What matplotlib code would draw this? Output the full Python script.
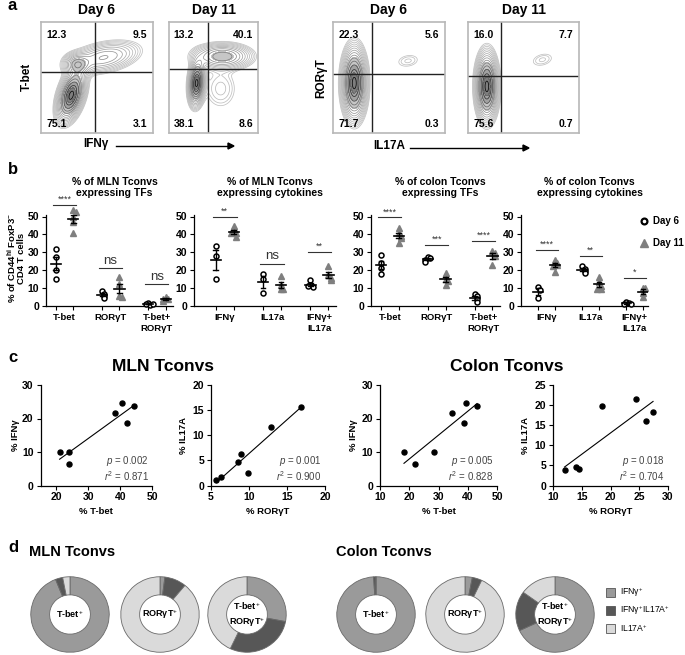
import numpy as np
import matplotlib.pyplot as plt

plt.rcParams['font.family'] = ['Liberation Sans', 'DejaVu Sans']
plt.rcParams['mathtext.fontset'] = 'custom'
plt.rcParams['mathtext.rm'] = 'Liberation Sans'
plt.rcParams['mathtext.it'] = 'Liberation Sans:italic'
plt.rcParams['mathtext.bf'] = 'Liberation Sans:bold'

# ---- panel a: flow plots (quadrant % and rough population shapes)
flow_days = ['Day 6', 'Day 11', 'Day 6', 'Day 11']
flow_quads = [[12.3, 9.5, 75.1, 3.1], [13.2, 40.1, 38.1, 8.6],
              [22.3, 5.6, 71.7, 0.3], [16.0, 7.7, 75.6, 0.7]]   # UL, UR, LL, LR
flow_gates = [(0.48, 0.55), (0.44, 0.58), (0.35, 0.53), (0.30, 0.51)]
# blobs: cx, cy, sx, sy, rotation (deg), weight
flow_blobs = [
    [(0.27, 0.34, 0.055, 0.12, -17, 1.0), (0.56, 0.68, 0.17, 0.07, 12, 0.30), (0.32, 0.62, 0.06, 0.05, 0, 0.35)],
    [(0.31, 0.45, 0.045, 0.10, -5, 1.0), (0.60, 0.69, 0.17, 0.06, 0, 0.45), (0.58, 0.40, 0.12, 0.12, 0, 0.08)],
    [(0.19, 0.45, 0.055, 0.16, 0, 1.0), (0.67, 0.65, 0.08, 0.045, 10, 0.06)],
    [(0.17, 0.42, 0.05, 0.15, 0, 1.0), (0.67, 0.66, 0.08, 0.045, 15, 0.06)],
]

# ---- panel b: % of CD44hi FoxP3- CD4 T cells
tf_cats = ['T-bet', 'RORγT', 'T-bet+\nRORγT']
cyt_cats = ['IFNγ', 'IL17a', 'IFNγ+\nIL17a']
mln_tf_d6 = [[32, 27.5, 20, 14.8], [8, 6.5, 5.5, 4], [1.3, 0.5, 1.0, 0.8]]
mln_tf_d11 = [[53.5, 52.5, 49.5, 47, 41], [16, 12, 5.5, 4.5], [4.8, 3.8, 3.4, 2.3]]
mln_tf_sig = [('****', 56.5), ('ns', 21), ('ns', 12)]
mln_cyt_d6 = [[33.7, 28, 15], [17.5, 15, 7], [14.2, 11.5, 10.3, 11]]
mln_cyt_d11 = [[44.5, 42, 41, 40.5, 38.5], [16.5, 11.5, 9, 9], [22, 17, 15.5, 14.5]]
mln_cyt_sig = [('**', 50), ('ns', 23.5), ('**', 30)]
col_tf_d6 = [[28.5, 24, 21, 17.5], [27.5, 26.5, 25.5, 24.5], [6.4, 5.1, 3.7, 1.8]]
col_tf_d11 = [[43.5, 40.5, 39, 38, 35], [18.5, 15, 14, 11.5], [30.5, 29.5, 28, 23]]
col_tf_sig = [('****', 49.5), ('***', 34), ('****', 36.5)]
col_cyt_d6 = [[10.5, 8.5, 4], [22, 20.6, 19.3, 18.4], [2.2, 1.5, 1.0, 0.8]]
col_cyt_d11 = [[25.5, 24, 23, 22, 19], [16, 13, 11, 9.5, 9.5], [10, 9.6, 7, 4.6]]
col_cyt_sig = [('****', 31.3), ('**', 28), ('*', 15.3)]

# ---- panel c: correlations
mln_tbet = [21, 24, 23.8, 38.3, 40.5, 42.3, 44.5]
mln_ifng = [10, 10, 6.5, 21.5, 24.5, 18.8, 23.8]
mln_ror = [5.7, 6.3, 8.5, 9.0, 9.9, 12.9, 16.8]
mln_il17 = [1.0, 1.7, 4.7, 6.3, 2.4, 11.6, 15.6]
col_tbet = [18.2, 21.8, 28.3, 34.5, 38.8, 39.3, 43.2]
col_ifng = [10, 6.5, 10.1, 21.5, 18.8, 24.6, 23.8]
col_ror = [12, 14, 14.6, 18.6, 24.5, 26.1, 27.4]
col_il17 = [3.9, 4.7, 4.2, 19.7, 21.6, 16, 18.4]
corr_stats = [('0.002', '0.871'), ('0.001', '0.900'), ('0.005', '0.828'), ('0.018', '0.704')]

# ---- panel d: cytokine make-up (IFNg+, IFNg+IL17A+, IL17A+)
donut_labels = ['T-bet$^{+}$', 'RORγT$^{+}$', 'T-bet$^{+}$\nRORγT$^{+}$']
mln_donuts = [[94, 3, 3], [2, 9, 89], [28, 29, 43]]
colon_donuts = [[99, 1, 0], [3, 4, 93], [68, 17, 15]]
donut_legend = ['IFNγ$^{+}$', 'IFNγ$^{+}$IL17A$^{+}$', 'IL17A$^{+}$']
donut_colors = ['#9a9a9a', '#575757', '#dadada']

W, H = 685, 655
fig = plt.figure(figsize=(W / 100, H / 100), dpi=100)


def rect(x0, y0, x1, y1):
    return [x0 / W, 1 - y1 / H, (x1 - x0) / W, (y1 - y0) / H]


def ftext(x, y, s, **kw):
    fig.text(x / W, 1 - y / H, s, **kw)


# ================= a =================
ftext(8, 6, 'a', fontsize=12, fontweight='bold', va='center')
flow_boxes = [(41, 22, 153, 133), (169, 22, 258, 133), (333, 22, 445, 133), (468, 22, 579, 133)]
gx, gy = np.meshgrid(np.linspace(0, 1, 220), np.linspace(0, 1, 220))
for i in range(4):
    x0, y0, x1, y1 = flow_boxes[i]
    ax = fig.add_axes(rect(x0, y0, x1, y1))
    dens = np.zeros_like(gx)
    for cx, cy, sx, sy, th, w in flow_blobs[i]:
        t = np.deg2rad(th)
        u = (gx - cx) * np.cos(t) + (gy - cy) * np.sin(t)
        v = -(gx - cx) * np.sin(t) + (gy - cy) * np.cos(t)
        dens += w * np.exp(-0.5 * ((u / sx) ** 2 + (v / sy) ** 2))
    dm = dens.max()
    ax.contourf(gx, gy, dens, levels=dm * np.array([0.35, 0.6, 0.85, 1.01]),
                colors=['#b8b8b8', '#8a8a8a', '#5e5e5e'], alpha=0.8)
    lev = dm * np.geomspace(0.035, 0.95, 15)
    ax.contour(gx, gy, dens, levels=lev, cmap='Greys', vmin=-dm * 0.5,
               vmax=dm, linewidths=0.55)
    vx, hy = flow_gates[i]
    ax.axvline(vx, color='#222222', lw=1.0)
    ax.axhline(hy, color='#222222', lw=1.0)
    q = flow_quads[i]
    kw = dict(transform=ax.transAxes, fontsize=7.5, fontweight='bold')
    ax.text(0.05, 0.93, '%.1f' % q[0], ha='left', va='top', **kw)
    ax.text(0.95, 0.93, '%.1f' % q[1], ha='right', va='top', **kw)
    ax.text(0.05, 0.04, '%.1f' % q[2], ha='left', va='bottom', **kw)
    ax.text(0.95, 0.04, '%.1f' % q[3], ha='right', va='bottom', **kw)
    ax.set_xlim(0, 1)
    ax.set_ylim(0, 1)
    ax.set_xticks([])
    ax.set_yticks([])
    for s in ax.spines.values():
        s.set_color('#b8b8b8')
        s.set_linewidth(1.2)
    ftext((x0 + x1) / 2, 10, flow_days[i], fontsize=10, fontweight='bold', ha='center', va='center')

ftext(27, 77, 'T-bet', fontsize=8.5, fontweight='bold', rotation=90, ha='center', va='center')
ftext(321, 78, 'RORγT', fontsize=8.5, fontweight='bold', rotation=90, ha='center', va='center')
ftext(96, 144, 'IFNγ', fontsize=8.5, fontweight='bold', ha='center', va='center')
ftext(389, 146, 'IL17A', fontsize=8.5, fontweight='bold', ha='center', va='center')
for xa, xb, ya in [(116, 228, 146), (410, 523, 148)]:
    fig.add_artist(plt.Line2D([xa / W, xb / W], [1 - ya / H, 1 - ya / H], color='black', lw=1.0))
    fig.add_artist(plt.Polygon([[xb / W, 1 - (ya - 3) / H], [xb / W, 1 - (ya + 3) / H],
                                [(xb + 6) / W, 1 - ya / H]], closed=True, color='black'))

# ================= b =================
ftext(8, 170, 'b', fontsize=12, fontweight='bold', va='center')
ftext(12, 258, '% of CD44$^{\\mathbf{hi}}$ FoxP3$^{-}$', fontsize=6.8, fontweight='bold', rotation=90,
      ha='center', va='center')
ftext(22, 258, 'CD4 T cells', fontsize=6.8, fontweight='bold', rotation=90, ha='center', va='center')

PX = 1.78  # pixels per % unit
Y0 = 305.5
OFF = 0.19


def spread(vals):
    xs = []
    for k, v in enumerate(vals):
        n = sum(1 for u in vals[:k] if abs(u - v) < 2.2)
        xs.append(0.05 * ((n + 1) // 2) * (1 if n % 2 else -1))
    return np.array(xs)


def dot_panel(xpix, xlim, cats, d6, d11, sig, title):
    xa, xb = xpix
    ymax = 51
    ax = fig.add_axes(rect(xa, Y0 - ymax * PX, xb, Y0))
    ticks = []
    for g in range(3):
        for vals, dx, kind in [(d6[g], -OFF, 'o'), (d11[g], OFF, '^')]:
            xc = g + dx
            ticks.append(xc)
            v = np.array(vals)
            xs = xc + spread(vals)
            if kind == 'o':
                ax.plot(xs, v, 'o', ms=3.6, mfc='white', mec='black', mew=1.1, clip_on=False, zorder=3)
            else:
                ax.plot(xs, v, '^', ms=4.6, mfc='#7f7f7f', mec='#7f7f7f', clip_on=False, zorder=3)
            m = v.mean()
            se = v.std(ddof=1) / np.sqrt(len(v))
            ax.plot([xc - 0.11, xc + 0.11], [m, m], color='black', lw=1.2, zorder=4)
            ax.plot([xc, xc], [m - se, m + se], color='black', lw=1.0, zorder=4)
            for e in (m - se, m + se):
                ax.plot([xc - 0.05, xc + 0.05], [e, e], color='black', lw=1.0, zorder=4)
        lab, yy = sig[g]
        ax.plot([g - OFF - 0.06, g + OFF + 0.06], [yy, yy], color='#333333', lw=0.8, clip_on=False)
        if lab == 'ns':
            ax.text(g, yy + 0.8, lab, ha='center', va='bottom', fontsize=9.5, color='#333333')
        else:
            ax.text(g, yy + 0.6, lab, ha='center', va='bottom', fontsize=6.5, color='#333333')
        ax.text(g, -4.3, cats[g], ha='center', va='top', fontsize=6.8, fontweight='bold',
                linespacing=1.25)
    ax.set_xlim(*xlim)
    ax.set_ylim(0, ymax)
    ax.set_xticks(ticks)
    ax.set_xticklabels([])
    ax.set_yticks([0, 10, 20, 30, 40, 50])
    ax.tick_params(labelsize=7.5, length=3, width=0.8, pad=2)
    for t in ax.get_yticklabels():
        t.set_fontweight('bold')
    for s in ['top', 'right']:
        ax.spines[s].set_visible(False)
    for s in ['left', 'bottom']:
        ax.spines[s].set_linewidth(0.9)
    xc = (xa + xb) / 2
    ftext(xc + 5, 182, title[0], fontsize=7.5, fontweight='bold', ha='center', va='center')
    ftext(xc + 5, 193, title[1], fontsize=7.5, fontweight='bold', ha='center', va='center')
    return ax


dot_panel((46, 173), (-0.4, 2.35), tf_cats, mln_tf_d6, mln_tf_d11, mln_tf_sig,
          ['% of MLN Tconvs', 'expressing TFs'])
dot_panel((194, 336), (-0.65, 2.35), cyt_cats, mln_cyt_d6, mln_cyt_d11, mln_cyt_sig,
          ['% of MLN Tconvs', 'expressing cytokines'])
dot_panel((371, 500), (-0.4, 2.35), tf_cats, col_tf_d6, col_tf_d11, col_tf_sig,
          ['% of colon Tconvs', 'expressing TFs'])
axl = dot_panel((521, 648), (-0.58, 2.3), cyt_cats, col_cyt_d6, col_cyt_d11, col_cyt_sig,
                ['% of colon Tconvs', 'expressing cytokines'])
axl.plot([2.22], [47.5], 'o', ms=4.2, mfc='white', mec='black', mew=1.6, clip_on=False)
axl.plot([2.22], [35.2], '^', ms=5.5, mfc='#7f7f7f', mec='#7f7f7f', clip_on=False)
axl.text(2.42, 47.5, 'Day 6', fontsize=7, fontweight='bold', va='center')
axl.text(2.42, 35.2, 'Day 11', fontsize=7, fontweight='bold', va='center')

# ================= c =================
ftext(8, 358, 'c', fontsize=12, fontweight='bold', va='center')
ftext(163, 367, 'MLN Tconvs', fontsize=12.5, fontweight='bold', ha='center', va='center')
ftext(507, 367, 'Colon Tconvs', fontsize=12.5, fontweight='bold', ha='center', va='center')

corr_panels = [
    ((40.5, 152), (15, 50), [20, 30, 40, 50], 30, [0, 10, 20, 30], mln_tbet, mln_ifng, '% T-bet', '% IFNγ', 15),
    ((211, 325), (5, 20), [5, 10, 15, 20], 20, [0, 5, 10, 15, 20], mln_ror, mln_il17, '% RORγT', '% IL17A', 184),
    ((380, 497), (10, 50), [10, 20, 30, 40, 50], 30, [0, 10, 20, 30], col_tbet, col_ifng, '% T-bet', '% IFNγ', 354),
    ((553, 668), (10, 30), [10, 15, 20, 25, 30], 25, [0, 5, 10, 15, 20, 25], col_ror, col_il17, '% RORγT', '% IL17A', 526),
]
for k, (xp, xl, xt, ym, yt, xv, yv, xlab, ylab, ylx) in enumerate(corr_panels):
    ax = fig.add_axes(rect(xp[0], 385, xp[1], 485.5))
    xv = np.array(xv)
    yv = np.array(yv)
    ax.plot(xv, yv, 'o', color='black', ms=3.6, clip_on=False, zorder=3)
    b1, b0 = np.polyfit(xv, yv, 1)
    xx = np.array([xv.min(), xv.max()])
    ax.plot(xx, b1 * xx + b0, color='black', lw=0.8)
    ax.set_xlim(*xl)
    ax.set_ylim(0, ym)
    ax.set_xticks(xt)
    ax.set_yticks(yt)
    ax.tick_params(labelsize=7.5, length=3, width=0.8, pad=2)
    for t in ax.get_xticklabels() + ax.get_yticklabels():
        t.set_fontweight('bold')
    for s in ['top', 'right']:
        ax.spines[s].set_visible(False)
    for s in ['left', 'bottom']:
        ax.spines[s].set_linewidth(0.9)
    pv, rv = corr_stats[k]
    ax.text(0.97, 0.24, '$p$ = ' + pv, transform=ax.transAxes, ha='right', va='center',
            fontsize=7, color='#444444')
    ax.text(0.97, 0.09, '$r^2$ = ' + rv, transform=ax.transAxes, ha='right', va='center',
            fontsize=7, color='#444444')
    ftext((xp[0] + xp[1]) / 2, 512, xlab, fontsize=6.8, fontweight='bold', ha='center', va='center')
    ftext(ylx, 435, ylab, fontsize=6.8, fontweight='bold', rotation=90, ha='center', va='center')

# ================= d =================
ftext(8, 548, 'd', fontsize=12, fontweight='bold', va='center')
ftext(29, 552, 'MLN Tconvs', fontsize=10.5, fontweight='bold', ha='left', va='center')
ftext(336, 552, 'Colon Tconvs', fontsize=10.5, fontweight='bold', ha='left', va='center')

donut_x = [70, 160, 247, 376, 465, 555]
all_donuts = mln_donuts + colon_donuts
for k in range(6):
    cx = donut_x[k]
    ax = fig.add_axes(rect(cx - 40, 576, cx + 40, 653))
    ax.pie(all_donuts[k], colors=donut_colors, startangle=90, counterclock=False,
           wedgeprops=dict(width=0.48, edgecolor='#6a6a6a', linewidth=0.6))
    ax.set_aspect('auto')
    ax.set_xlim(-1.02, 1.02)
    ax.set_ylim(-1.02, 1.02)
    ax.text(0, 0, donut_labels[k % 3], ha='center', va='center', fontsize=6.5,
            fontweight='bold', linespacing=1.3)

for j in range(3):
    yy = 592 + 18 * j
    fig.add_artist(plt.Rectangle(((606) / W, 1 - (yy + 4.5) / H), 9 / W, 9 / H,
                                 facecolor=donut_colors[j], edgecolor='#555555', lw=0.6))
    ftext(620, yy, donut_legend[j], fontsize=6.2, ha='left', va='center')

fig.savefig('out.png', dpi=100)
